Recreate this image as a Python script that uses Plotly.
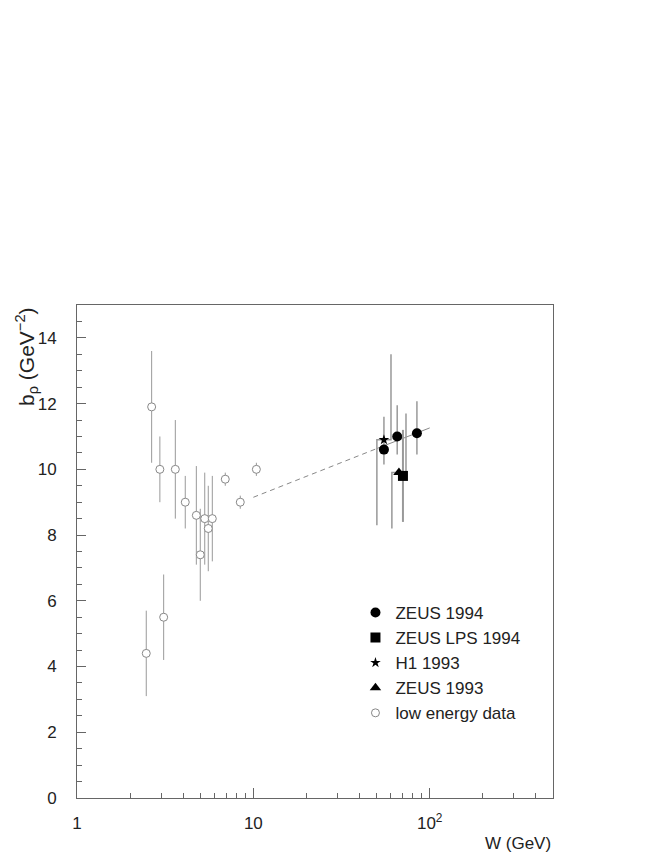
import plotly.graph_objects as go

# low energy data
low_W = [2.47, 2.65, 2.95, 3.10, 3.61, 4.11, 4.75, 5.0, 5.30, 5.55, 5.85, 6.93, 8.43, 10.4]
low_b = [4.4, 11.9, 10.0, 5.5, 10.0, 9.0, 8.6, 7.4, 8.5, 8.2, 8.5, 9.7, 9.0, 10.0]
low_err = [1.3, 1.7, 1.0, 1.3, 1.5, 0.8, 1.5, 1.4, 1.4, 1.3, 1.3, 0.2, 0.2, 0.2]

# ZEUS 1994
z94_W = [55.0, 65.4, 84.6]
z94_b = [10.6, 11.0, 11.1]
z94_up = [1.0, 0.95, 0.97]
z94_dn = [0.45, 0.55, 0.65]

# ZEUS LPS 1994
lps_W = [70.5]
lps_b = [9.8]
lps_err = [1.4]

# H1 1993
h1_W = [55.0]
h1_b = [10.9]
h1_up = [2.6]
h1_dn = [2.6]

# ZEUS 1993
z93_W = [66.9]
z93_b = [9.9]
z93_up = [1.8]
z93_dn = [1.7]

# fit line
fit_W_dash = [10, 50]
fit_b_dash = [9.15, 10.63]
fit_W_solid = [50, 100]
fit_b_solid = [10.63, 11.26]

x_major = [1, 10, 100]
x_major_text = ['1', '10', '10<sup>2</sup>']
x_minor = [2, 3, 4, 5, 6, 7, 8, 9, 20, 30, 40, 50, 60, 70, 80, 90, 200, 300, 400]

GREY = '#999999'
FONT = 'Liberation Sans, Arial, sans-serif'
OFF = 10 ** 0.04


def offset_err(W, b, up, dn):
    # systematic errors drawn as offset L-shapes
    xs, ys = [], []
    for w, v, u, d in zip(W, b, up, dn):
        xs += [w, w / OFF, w / OFF, None, w, w * OFF, w * OFF, None]
        ys += [v, v, v - d, None, v, v, v + u, None]
    return xs, ys


fig = go.Figure()

fig.add_trace(go.Scatter(
    x=fit_W_dash, y=fit_b_dash, mode='lines',
    line=dict(color='#888888', width=1, dash='5px,4px'),
    showlegend=False, hoverinfo='skip'
))
fig.add_trace(go.Scatter(
    x=fit_W_solid, y=fit_b_solid, mode='lines',
    line=dict(color='#888888', width=1),
    showlegend=False, hoverinfo='skip'
))

for W, b, up, dn in [(h1_W, h1_b, h1_up, h1_dn), (z93_W, z93_b, z93_up, z93_dn)]:
    xs, ys = offset_err(W, b, up, dn)
    fig.add_trace(go.Scatter(
        x=xs, y=ys, mode='lines',
        line=dict(color=GREY, width=1.5),
        showlegend=False, hoverinfo='skip'
    ))

fig.add_trace(go.Scatter(
    x=z94_W, y=z94_b, mode='markers', name='ZEUS 1994',
    marker=dict(symbol='circle', size=10, color='black'),
    error_y=dict(type='data', symmetric=False, array=z94_up, arrayminus=z94_dn,
                 color=GREY, thickness=1.5, width=0)
))
fig.add_trace(go.Scatter(
    x=lps_W, y=lps_b, mode='markers', name='ZEUS LPS 1994',
    marker=dict(symbol='square', size=10, color='black'),
    error_y=dict(type='data', array=lps_err, color=GREY, thickness=2, width=0)
))
fig.add_trace(go.Scatter(
    x=h1_W, y=h1_b, mode='markers', name='H1 1993',
    marker=dict(symbol='star', size=8, color='black')
))
fig.add_trace(go.Scatter(
    x=z93_W, y=z93_b, mode='markers', name='ZEUS 1993',
    marker=dict(symbol='triangle-up', size=10, color='black')
))
fig.add_trace(go.Scatter(
    x=low_W, y=low_b, mode='markers', name='low energy data',
    marker=dict(symbol='circle', size=8, color='white',
                line=dict(color='#888888', width=1)),
    error_y=dict(type='data', array=low_err, color=GREY, thickness=1, width=0)
))

# page body has an 8px margin, so the figure is 8px smaller each way
fig.update_layout(
    width=656,
    height=852,
    template='simple_white',
    plot_bgcolor='white',
    paper_bgcolor='white',
    margin=dict(l=69, r=111, t=297, b=62),
    font=dict(family=FONT, size=17, color='#222222'),
    showlegend=True,
    legend=dict(
        x=0.585,
        xanchor='left',
        y=0.412,
        yanchor='top',
        bgcolor='rgba(0,0,0,0)',
        font=dict(size=17, color='#222222'),
        traceorder='normal'
    ),
    xaxis=dict(
        type='log',
        range=[0, 2.69897],
        automargin=False,
        showline=True, mirror=True, linecolor='#666666', linewidth=1,
        ticks='inside', ticklen=10, tickcolor='#666666',
        tickvals=x_major, ticktext=x_major_text,
        ticklabelstandoff=10,
        minor=dict(tickvals=x_minor, ticks='inside', ticklen=5, tickcolor='#666666'),
        showgrid=False, zeroline=False
    ),
    yaxis=dict(
        range=[0, 15],
        automargin=False,
        showline=True, mirror=True, linecolor='#666666', linewidth=1,
        ticks='inside', ticklen=9, tickcolor='#666666',
        tickvals=[0, 2, 4, 6, 8, 10, 12, 14],
        ticklabelstandoff=16,
        minor=dict(dtick=0.5, ticks='inside', ticklen=5, tickcolor='#666666'),
        showgrid=False, zeroline=False
    ),
    annotations=[
        dict(text='W (GeV)', xref='paper', yref='paper', x=1.0, y=-0.068,
             xanchor='right', yanchor='top', showarrow=False,
             font=dict(size=17, family=FONT, color='#222222')),
        dict(text='b<sub>ρ</sub> (GeV<sup>−2</sup>)', xref='paper', yref='paper',
             x=-0.106, y=1.0, xanchor='center', yanchor='top', textangle=-90,
             showarrow=False, font=dict(size=21, family=FONT, color='#222222')),
    ]
)

fig.write_html('out.html')
